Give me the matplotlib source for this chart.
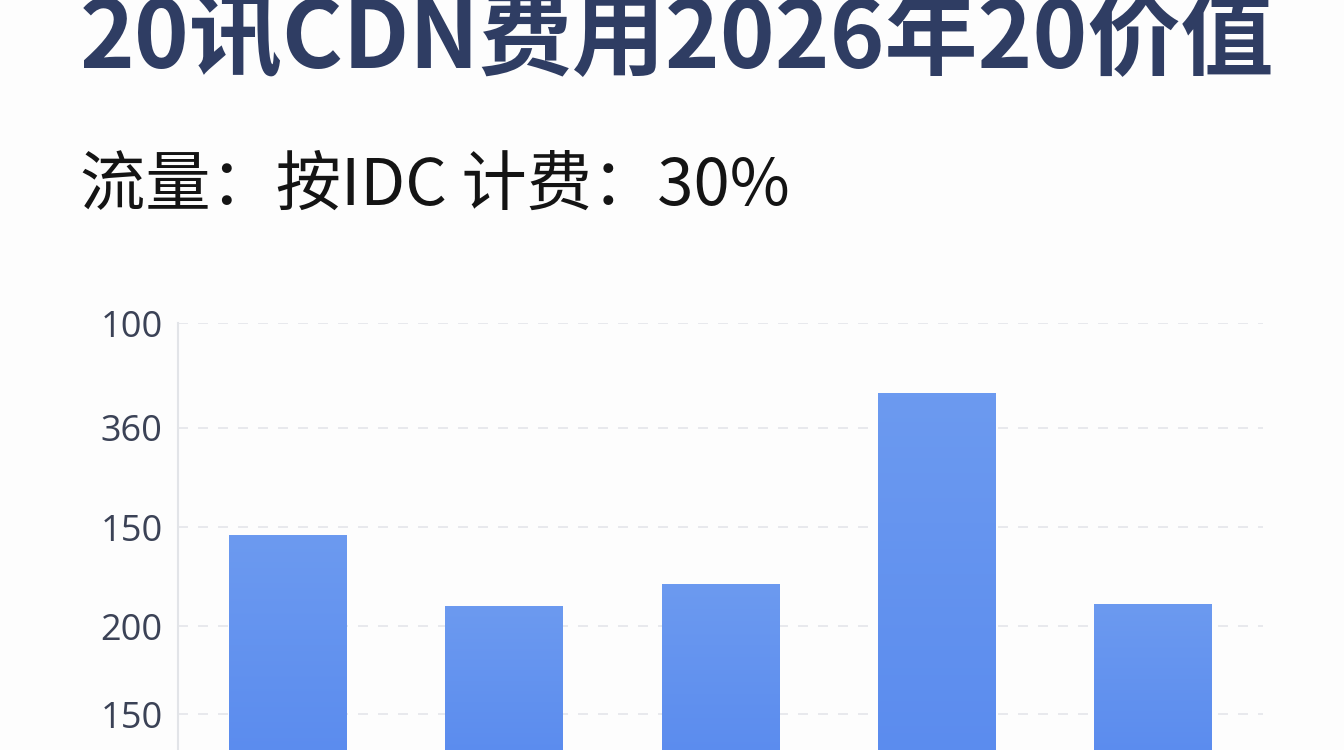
import numpy as np
import matplotlib
matplotlib.use("Agg")
import matplotlib.pyplot as plt
from matplotlib.colors import LinearSegmentedColormap

plt.rcParams['font.family'] = ['Noto Sans CJK SC', 'DejaVu Sans']

# data
categories = ['A', 'B', 'C', 'D', 'E']
values = [1.83, 1.10, 1.33, 3.28, 1.13]
tick_labels = ['150', '200', '150', '360', '100']
tick_pos = [0.0, 0.90, 1.91, 2.93, 4.0]

title = '20讯CDN费用2026年20价值'
subtitle = '流量：按IDC 计费：30%'


def graph():
    fig = plt.figure(figsize=(13.44, 7.5), dpi=100)
    fig.patch.set_facecolor('#fdfdfd')

    ymin, ymax = -0.368, 4.0
    base = ymin - 0.05
    ax = fig.add_axes([178 / 1344, 0.0, (1263 - 178) / 1344, (750 - 323) / 750])
    ax.set_facecolor('#fdfdfd')

    x = np.arange(len(categories))
    bars = ax.bar(x, np.array(values) - base, bottom=base, width=0.545,
                  color='#6393ee', zorder=3)

    # soft vertical gradient inside each bar
    grad = np.linspace(0, 1, 100).reshape(-1, 1)
    cmap = LinearSegmentedColormap.from_list('b', ['#5b8cee', '#6c9af0'])
    for b in bars:
        x0, y0 = b.get_x(), b.get_y()
        im = ax.imshow(grad, cmap=cmap, aspect='auto', origin='lower',
                       extent=[x0, x0 + b.get_width(), y0, y0 + b.get_height()], zorder=4)
        im.set_clip_path(b)
    ax.set_xlim(-0.51, 4.51)
    ax.set_ylim(ymin, ymax)

    ax.set_yticks(tick_pos)
    ax.set_yticklabels(tick_labels)
    ax.set_xticks([])
    ax.tick_params(axis='y', length=0, pad=11, labelsize=26, labelcolor='#3b4256')
    for lab in ax.get_yticklabels():
        lab.set_family(['Open Sans', 'DejaVu Sans'])
    ax.grid(axis='y', color='#e4e6ea', linestyle=(0, (6, 6)), linewidth=1.2, zorder=0)
    for s in ['top', 'right', 'bottom']:
        ax.spines[s].set_visible(False)
    ax.spines['left'].set_color('#e2e4e8')
    ax.spines['left'].set_linewidth(1.5)

    # the title sits against the top edge, as in the source image
    fig.text(80 / 1344, 1 - 68 / 750, title, fontsize=67, fontweight='bold',
             color='#2f3d63', ha='left', va='baseline')
    fig.text(80 / 1344, 1 - 205 / 750, subtitle, fontsize=47,
             color='#141414', ha='left', va='baseline')

    fig.savefig('out.png', dpi=100, facecolor=fig.get_facecolor())


def main():
    graph()


if __name__ == '__main__':
    main()
